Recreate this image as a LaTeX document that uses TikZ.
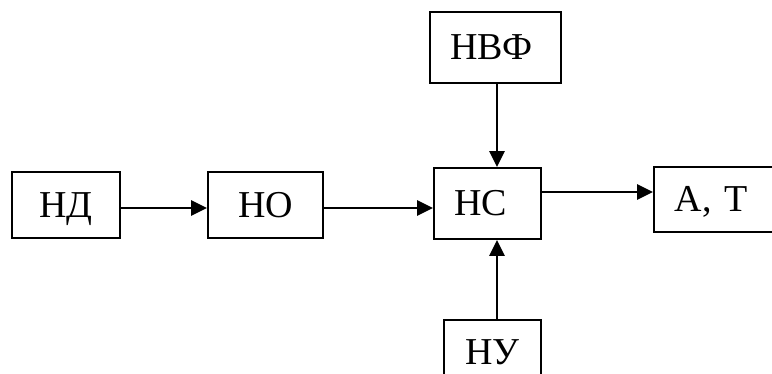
\documentclass[tikz,border=0pt]{standalone}
\usepackage{fontspec}
\setmainfont{Liberation Serif}
\usetikzlibrary{arrows.meta}
\begin{document}
\begin{tikzpicture}[x=1pt,y=-1pt,
  blk/.style={draw,line width=1.9pt,inner sep=0pt,text height=25pt,text depth=0pt,font=\fontsize{38}{42}\selectfont},
  arr/.style={line width=2.9pt,-{Triangle[length=16pt,width=15pt]}}]
\useasboundingbox (0,0) rectangle (772,374);
\begin{scope}
\clip (0,0) rectangle (772,374);
\node[blk,minimum width=108pt,minimum height=66pt] (nd) at (66,205) {НД};
\node[blk,minimum width=115pt,minimum height=66pt] (no) at (265.5,205) {НО};
\node[blk,minimum width=107pt,minimum height=71pt] (nc) at (487.5,203.5) {\hspace*{-14pt}НС};
\node[blk,minimum width=131pt,minimum height=71pt] (nvf) at (495.5,47.5) {\hspace*{-8pt}НВФ};
\node[blk,anchor=west,minimum height=65pt,text width=90pt,inner xsep=21pt,align=left] (at) at (653,199.5) {А, Т};
\node[blk,minimum width=97pt,minimum height=65pt] (nu) at (492.5,352.5) {НУ};
\end{scope}
\draw[arr] ([yshift=-3pt]nd.east) -- ([yshift=-3pt]no.west);
\draw[arr] ([yshift=-3pt]no.east) -- ([yshift=-4.5pt]nc.west);
\draw[arr] ([yshift=11.5pt]nc.east) -- ([yshift=7.5pt]at.west);
\draw[arr] ([xshift=1.5pt]nvf.south) -- ([xshift=9.5pt]nc.north);
\draw[arr] ([xshift=4.5pt]nu.north) -- ([xshift=9.5pt]nc.south);
\end{tikzpicture}
\end{document}
